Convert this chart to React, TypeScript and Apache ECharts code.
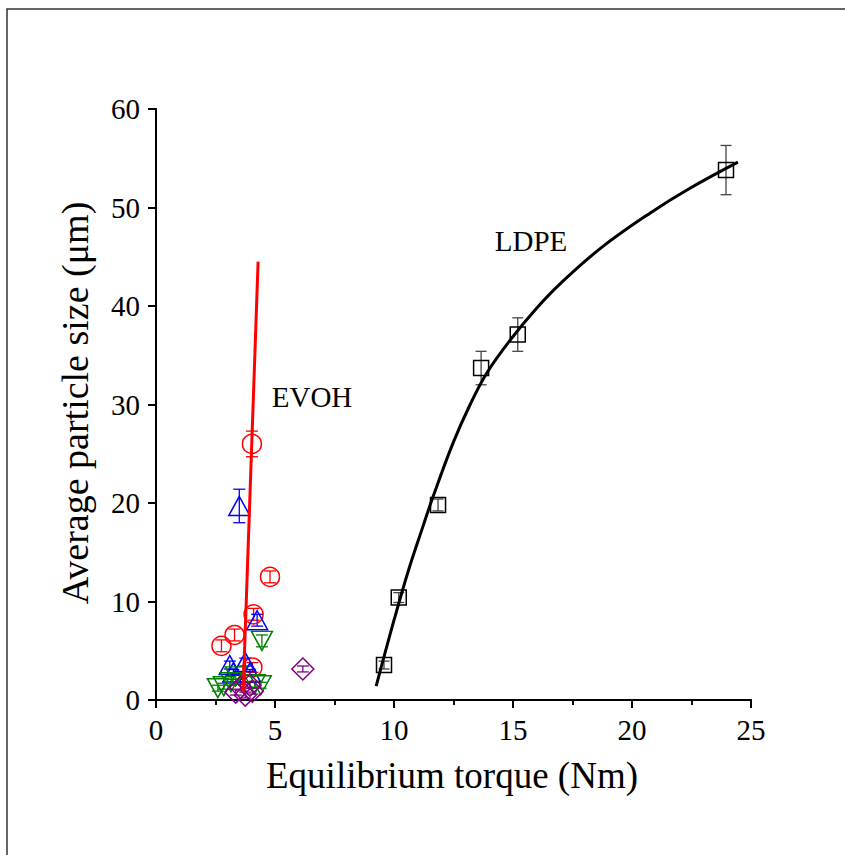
import React, { useEffect, useRef } from "react";
import * as echarts from "echarts";

// ---- Data ----
const ldpeX = [9.58, 10.2, 11.85, 13.66, 15.2, 23.95];
const ldpeY = [3.55, 10.4, 19.8, 33.7, 37.1, 53.8];
const ldpeErr = [0.4, 0.5, 0.6, 1.7, 1.7, 2.5];

const ldpeFitX = [9.25, 10.0, 10.6, 11.2, 11.65, 12.5, 13.2, 13.9, 14.9, 16.0, 17.0, 18.7, 20.8, 22.4, 24.45];
const ldpeFitY = [1.4, 8.1, 13.1, 17.5, 20.7, 26.2, 30.0, 33.2, 36.6, 39.8, 42.3, 45.9, 49.5, 51.9, 54.6];

const evohFitX = [3.66, 4.29];
const evohFitY = [0.8, 44.5];

const redX = [4.03, 4.79, 4.1, 3.3, 2.75, 4.05];
const redY = [26.0, 12.5, 8.7, 6.6, 5.5, 3.3];
const redErr = [1.3, 0.6, 0.6, 0.6, 0.6, 0.5];

const blueX = [3.5, 4.25, 3.1, 3.75, 3.25, 3.95];
const blueY = [19.7, 8.1, 3.55, 3.85, 2.8, 2.8];
const blueErr = [1.7, 0.6, 0.4, 0.4, 0.3, 0.3];

const greenX = [4.45, 2.6, 2.85, 3.15, 3.35, 4.15, 4.4];
const greenY = [6.0, 1.2, 1.4, 1.8, 2.4, 1.6, 1.5];
const greenErr = [0.6, 0.3, 0.3, 0.3, 0.3, 0.3, 0.3];

const purpleX = [6.17, 3.75, 3.35, 4.05, 3.55, 3.95];
const purpleY = [3.15, 0.5, 0.8, 0.9, 1.3, 1.5];
const purpleErr = [0.3, 0.3, 0.3, 0.3, 0.3, 0.3];

const xTicks = [0, 5, 10, 15, 20, 25];
const yTicks = [0, 10, 20, 30, 40, 50, 60];

const FONT = "'Liberation Serif', 'Times New Roman', serif";

function pairs(xs: number[], ys: number[]) {
  return xs.map((x, i) => [x, ys[i]]);
}

function errorSeries(xs: number[], ys: number[], errs: number[], color: string, capW: number) {
  return {
    type: "custom",
    data: xs.map((x, i) => [x, ys[i] - errs[i], ys[i] + errs[i]]),
    encode: { x: 0, y: [1, 2] },
    z: 3,
    silent: true,
    renderItem: (_p: any, api: any) => {
      const lo = api.coord([api.value(0), api.value(1)]);
      const hi = api.coord([api.value(0), api.value(2)]);
      const st = { stroke: color, lineWidth: 1.3 };
      return {
        type: "group",
        children: [
          { type: "line", shape: { x1: lo[0], y1: lo[1], x2: hi[0], y2: hi[1] }, style: st },
          { type: "line", shape: { x1: lo[0] - capW / 2, y1: lo[1], x2: lo[0] + capW / 2, y2: lo[1] }, style: st },
          { type: "line", shape: { x1: hi[0] - capW / 2, y1: hi[1], x2: hi[0] + capW / 2, y2: hi[1] }, style: st },
        ],
      };
    },
  };
}

function scatter(xs: number[], ys: number[], symbol: string, size: any, color: string, rotate = 0) {
  return {
    type: "scatter",
    data: pairs(xs, ys),
    symbol,
    symbolSize: size,
    symbolRotate: rotate,
    z: 4,
    itemStyle: { color: "rgba(0,0,0,0)", borderColor: color, borderWidth: 1.5, opacity: 1 },
  };
}

export default function App() {
  const ref = useRef<HTMLDivElement>(null);
  useEffect(() => {
    if (!ref.current) return;
    const chart = echarts.init(ref.current, null, { renderer: "svg" });
    const axisLine = { show: true, lineStyle: { color: "#000", width: 2 } };
    chart.setOption({
      animation: false,
      backgroundColor: "#fff",
      grid: { left: 156, top: 109, right: 94, bottom: 155 },
      xAxis: [
        {
          type: "value",
          min: xTicks[0],
          max: xTicks[xTicks.length - 1],
          interval: 5,
          position: "bottom",
          axisLine,
          axisTick: { show: true, length: 8, lineStyle: { color: "#000", width: 2 } },
          minorTick: { show: true, splitNumber: 2, length: 5, lineStyle: { color: "#000", width: 1.5 } },
          splitLine: { show: false },
          axisLabel: { fontSize: 29, fontFamily: FONT, color: "#000", margin: 15 },
        },
        {
          type: "value",
          min: 0,
          max: 25,
          interval: 2.5,
          position: "top",
          axisLine,
          axisTick: { show: true, inside: true, length: 5, lineStyle: { color: "#000", width: 1.5 } },
          splitLine: { show: false },
          axisLabel: { show: false },
        },
      ],
      yAxis: [
        {
          type: "value",
          min: yTicks[0],
          max: yTicks[yTicks.length - 1],
          interval: 10,
          position: "left",
          axisLine,
          axisTick: { show: true, length: 8, lineStyle: { color: "#000", width: 2 } },
          splitLine: { show: false },
          axisLabel: { fontSize: 29, fontFamily: FONT, color: "#000", margin: 16 },
        },
        {
          type: "value",
          min: 0,
          max: 60,
          position: "right",
          axisLine,
          axisTick: { show: false },
          splitLine: { show: false },
          axisLabel: { show: false },
        },
      ],
      series: [
        errorSeries(ldpeX, ldpeY, ldpeErr, "#444", 11),
        errorSeries(redX, redY, redErr, "#ff0000", 12),
        errorSeries(blueX, blueY, blueErr, "#0000ff", 12),
        errorSeries(greenX, greenY, greenErr, "#008000", 12),
        errorSeries(purpleX, purpleY, purpleErr, "#800080", 12),
        scatter(ldpeX, ldpeY, "rect", 15, "#000"),
        scatter(redX, redY, "circle", 19, "#ff0000"),
        scatter(blueX, blueY, "triangle", [21, 19], "#0000ff"),
        scatter(greenX, greenY, "triangle", [21, 19], "#008000", 180),
        scatter(purpleX, purpleY, "diamond", 22, "#800080"),
        {
          type: "line",
          data: pairs(ldpeFitX, ldpeFitY),
          smooth: 0.4,
          symbol: "none",
          z: 5,
          lineStyle: { color: "#000", width: 3 },
        },
        {
          type: "line",
          data: pairs(evohFitX, evohFitY),
          symbol: "none",
          z: 5,
          lineStyle: { color: "#ff0000", width: 3 },
        },
      ],
      graphic: [
        {
          type: "rect",
          shape: { x: 7, y: 9, width: 900, height: 900 },
          style: { fill: "none", stroke: "#333", lineWidth: 1.5 },
          silent: true,
        },
        {
          type: "text",
          x: 75,
          y: 403,
          rotation: Math.PI / 2,
          style: {
            text: "Average particle size (μm)",
            font: `38px ${FONT}`,
            fill: "#000",
            textAlign: "center",
            textVerticalAlign: "middle",
          },
        },
        {
          type: "text",
          x: 452,
          y: 775,
          style: {
            text: "Equilibrium torque (Nm)",
            font: `37px ${FONT}`,
            fill: "#000",
            textAlign: "center",
            textVerticalAlign: "middle",
          },
        },
        {
          type: "text",
          x: 531,
          y: 241,
          style: { text: "LDPE", font: `29px ${FONT}`, fill: "#000", textAlign: "center", textVerticalAlign: "middle" },
        },
        {
          type: "text",
          x: 312,
          y: 397,
          style: { text: "EVOH", font: `29px ${FONT}`, fill: "#000", textAlign: "center", textVerticalAlign: "middle" },
        },
      ],
    });
    return () => chart.dispose();
  }, []);
  return (
    <div
      ref={ref}
      style={{ position: "fixed", left: 0, top: 0, width: 845, height: 855, background: "#fff" }}
    />
  );
}
